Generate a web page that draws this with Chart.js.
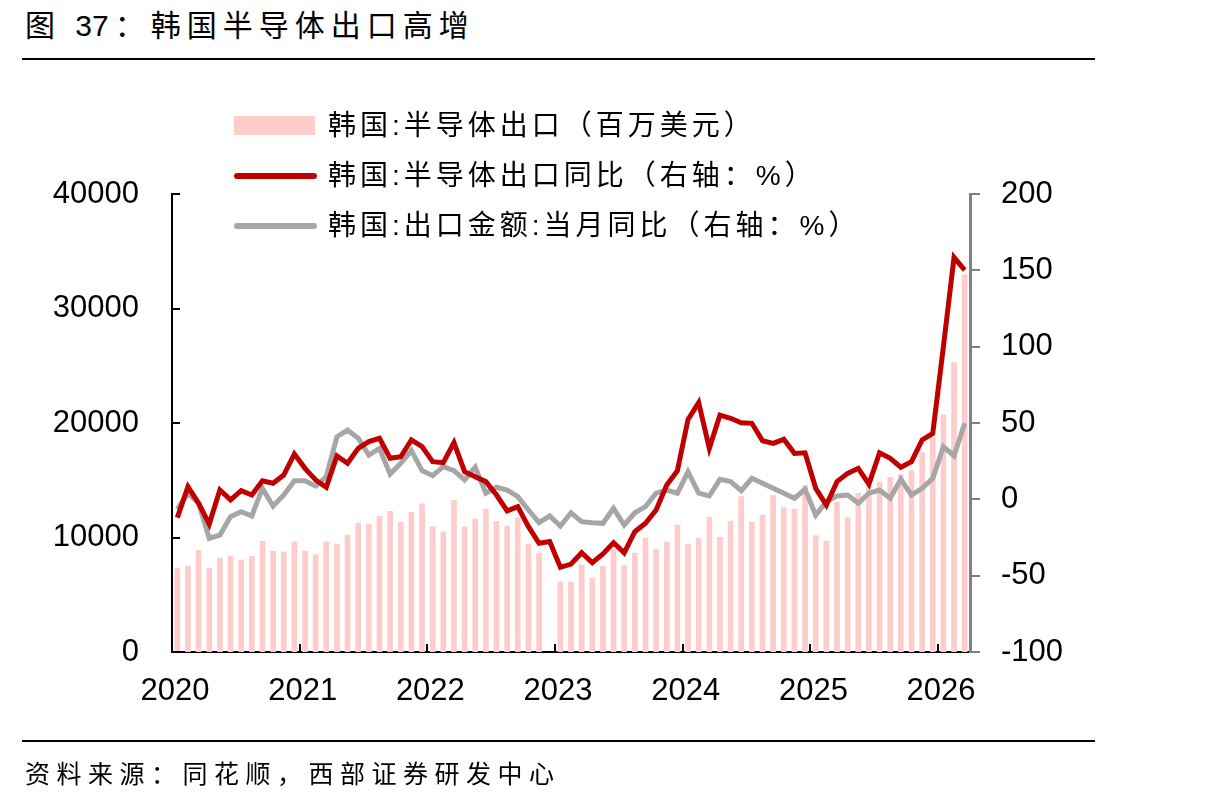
<!DOCTYPE html>
<html>
<head>
<meta charset="utf-8">
<script src="https://cdn.jsdelivr.net/npm/chart.js@4/dist/chart.umd.min.js"></script>
<style>
  body { margin: 0; background: #fff; }
  #wrap { position: relative; width: 1215px; height: 807px; overflow: hidden;
          font-family: "Liberation Sans", "Noto Sans CJK SC", sans-serif; color: #000; }
  #chart { position: absolute; left: 0; top: 0; }
  .title { position: absolute; left: 25px; top: 11px; font-size: 30px; line-height: 30px; letter-spacing: 6px; white-space: nowrap; }
  .title .num { letter-spacing: 0; margin-right: 6px; }
  .rule { position: absolute; left: 22px; width: 1073px; height: 2px; background: #000; }
  .source { position: absolute; left: 25px; top: 762px; font-size: 25px; line-height: 25px; letter-spacing: 6.5px; white-space: nowrap; }
  #legend { position: absolute; left: 0; top: 0; }
  .item { position: absolute; left: 234px; height: 28px; white-space: nowrap; }
  .swatch { position: absolute; left: 0; }
  .label { position: absolute; left: 94px; top: 0; font-size: 28px; line-height: 28px; letter-spacing: 4px; }
</style>
</head>
<body>
<div id="wrap">
  <div class="title">图 <span class="num">37</span>：韩国半导体出口高增</div>
  <div class="rule" style="top:58px"></div>
  <canvas id="chart" width="1215" height="807"></canvas>
  <div id="legend"></div>
  <div class="rule" style="top:740px"></div>
  <div class="source">资料来源：同花顺，西部证券研发中心</div>
</div>
<script>
// monthly, 2020-01 .. 2026-03
const years = ['2020', '2021', '2022', '2023', '2024', '2025', '2026'];

// 韩国:半导体出口（百万美元）
const semiExports = [
  7310, 7510, 8880, 7310, 8210, 8380, 8040, 8360, 9670, 8790, 8730, 9610,
  8820, 8500, 9610, 9430, 10220, 11270, 11150, 11850, 12290, 11330, 12200, 12930,
  10950, 10480, 13250, 10950, 11620, 12490, 11410, 11000, 11730, 9430, 8650, null,
  6110, 6110, 7600, 6430, 7480, 8970, 7540, 8620, 9960, 8970, 9610, 11090,
  9430, 9960, 11790, 10020, 11440, 13570, 11330, 11970, 13680, 12610, 12490, 14530,
  10160, 9690, 13100, 11730, 13860, 14440, 14850, 15260, 15500, 15840, 17410, 18700,
  20700, 25270, 32930
];

// 韩国:半导体出口同比（%）
const semiYoY = [
  -12, 8.3, -2.6, -16.2, 6.1, -0.4, 5.7, 2.8, 12.2, 10.5, 15.9, 29.7,
  20.3, 12.7, 7.9, 28.4, 23.6, 33.4, 37.8, 40, 26.9, 27.9, 38.9, 34.5,
  24.7, 24, 37.1, 18.1, 14.8, 11.6, 2.8, -7.6, -4.8, -17.9, -28.8, -27.7,
  -44.5, -42.4, -35, -41.5, -35.8, -28.4, -35, -21.2, -15.7, -7, 9.4, 18.8,
  52.4, 63.3, 33.4, 55.2, 53.1, 50.2, 49.8, 38.4, 36.7, 39.3, 30.1, 30.5,
  7.2, -3.7, 11.6, 17, 20.3, 10, 30.5, 26.9, 21, 24.7, 38.9, 43.2,
  100, 158.5, 150.2
];

// 韩国:出口金额:当月同比（%）
const totalYoY = [
  -6.5, 4, -2.6, -25.5, -23.4, -11.4, -8.1, -10.9, 7.2, -4.4, 2.8, 12.2,
  12.2, 8.7, 14.8, 41, 45.4, 40, 29, 33.4, 16.6, 23.6, 31.9, 18.8,
  15.5, 21.4, 18.8, 12.7, 21, 4, 7.9, 6.1, 1.7, -7, -15.3, -10.9,
  -17.5, -8.8, -14.6, -15.3, -15.7, -5.9, -16.8, -8.8, -4.8, 4, 6.1, 4,
  18, 4, 2.2, 13.1, 11.6, 5.7, 13.8, 10.5, 7.2, 4, 0.7, 6.6,
  -10.3, -1.5, 2.2, 2.8, -2.6, 4, 6.1, 0.7, 13.1, 2.8, 7.2, 13.8,
  34.5, 28.4, 49.8
];

const toPoints = arr => arr.map((v, i) => ({ x: i + 0.5, y: v }));
const tickFont = { family: '"Liberation Sans", Arial, sans-serif', size: 31 };

// tick marks pointing into the plot (left and bottom axes)
const inwardTicks = {
  id: 'inwardTicks',
  afterDraw(chart) {
    const { ctx, chartArea, scales } = chart;
    ctx.save();
    ctx.strokeStyle = '#000';
    ctx.lineWidth = 2;
    ctx.beginPath();
    scales.x.ticks.forEach(t => {
      const px = Math.round(scales.x.getPixelForValue(t.value));
      ctx.moveTo(px, chartArea.bottom);
      ctx.lineTo(px, chartArea.bottom - 8);
    });
    scales.y.ticks.forEach(t => {
      const py = Math.round(scales.y.getPixelForValue(t.value));
      ctx.moveTo(chartArea.left, py);
      ctx.lineTo(chartArea.left + 8, py);
    });
    ctx.stroke();
    ctx.restore();
  }
};

const chart = new Chart(document.getElementById('chart').getContext('2d'), {
  type: 'bar',
  data: {
    datasets: [
      {
        type: 'bar',
        label: '韩国:半导体出口（百万美元）',
        data: toPoints(semiExports),
        backgroundColor: '#FFCCCC',
        barThickness: 5,
        yAxisID: 'y',
        order: 3
      },
      {
        type: 'line',
        label: '韩国:半导体出口同比（右轴：%）',
        data: toPoints(semiYoY),
        borderColor: '#C00000',
        backgroundColor: '#C00000',
        borderWidth: 5,
        pointRadius: 0,
        tension: 0,
        yAxisID: 'y1',
        order: 1
      },
      {
        type: 'line',
        label: '韩国:出口金额:当月同比（右轴：%）',
        data: toPoints(totalYoY),
        borderColor: '#A6A6A6',
        backgroundColor: '#A6A6A6',
        borderWidth: 5,
        pointRadius: 0,
        tension: 0,
        yAxisID: 'y1',
        order: 2
      }
    ]
  },
  options: {
    responsive: false,
    animation: false,
    layout: { padding: { top: 194, bottom: 0, left: 0, right: 0 } },
    plugins: { legend: { display: false }, tooltip: { enabled: false } },
    scales: {
      x: {
        type: 'linear',
        min: 0,
        max: semiExports.length,
        offset: false,
        afterBuildTicks: s => { s.ticks = years.map((y, k) => ({ value: k * 12 })); },
        ticks: {
          callback: v => years[v / 12],
          font: tickFont,
          color: '#000',
          padding: 21,
          labelOffset: 3,
          maxRotation: 0,
          autoSkip: false
        },
        grid: { display: false, drawTicks: false },
        border: { color: '#000', width: 2 },
        afterFit: s => { s.height = 155; }
      },
      y: {
        position: 'left',
        min: 0,
        max: 40000,
        ticks: { stepSize: 10000, font: tickFont, color: '#000', padding: 33, callback: v => String(v) },
        grid: { display: false, drawTicks: false },
        border: { color: '#000', width: 2 },
        afterFit: s => { s.width = 172; }
      },
      y1: {
        position: 'right',
        min: -100,
        max: 200,
        ticks: { stepSize: 50, font: tickFont, color: '#000', padding: 21, callback: v => String(v) },
        grid: { drawOnChartArea: false, drawTicks: true, tickLength: 10, color: '#808080', lineWidth: 2 },
        border: { color: '#808080', width: 3 },
        afterFit: s => { s.width = 245; }
      }
    }
  },
  plugins: [inwardTicks]
});

// legend drawn as html over the top of the plot
const legendRows = [126, 176, 226];
const legend = document.getElementById('legend');
chart.data.datasets.forEach((ds, i) => {
  const item = document.createElement('div');
  item.className = 'item';
  item.style.top = (legendRows[i] - 14) + 'px';
  const sw = document.createElement('div');
  sw.className = 'swatch';
  if (ds.type === 'bar') {
    Object.assign(sw.style, { top: '4px', width: '81px', height: '19px', background: ds.backgroundColor });
  } else {
    Object.assign(sw.style, { top: '11px', width: '83px', height: '6px', borderRadius: '3px', background: ds.borderColor });
  }
  const lb = document.createElement('div');
  lb.className = 'label';
  lb.textContent = ds.label;
  item.appendChild(sw);
  item.appendChild(lb);
  legend.appendChild(item);
});
</script>
</body>
</html>
